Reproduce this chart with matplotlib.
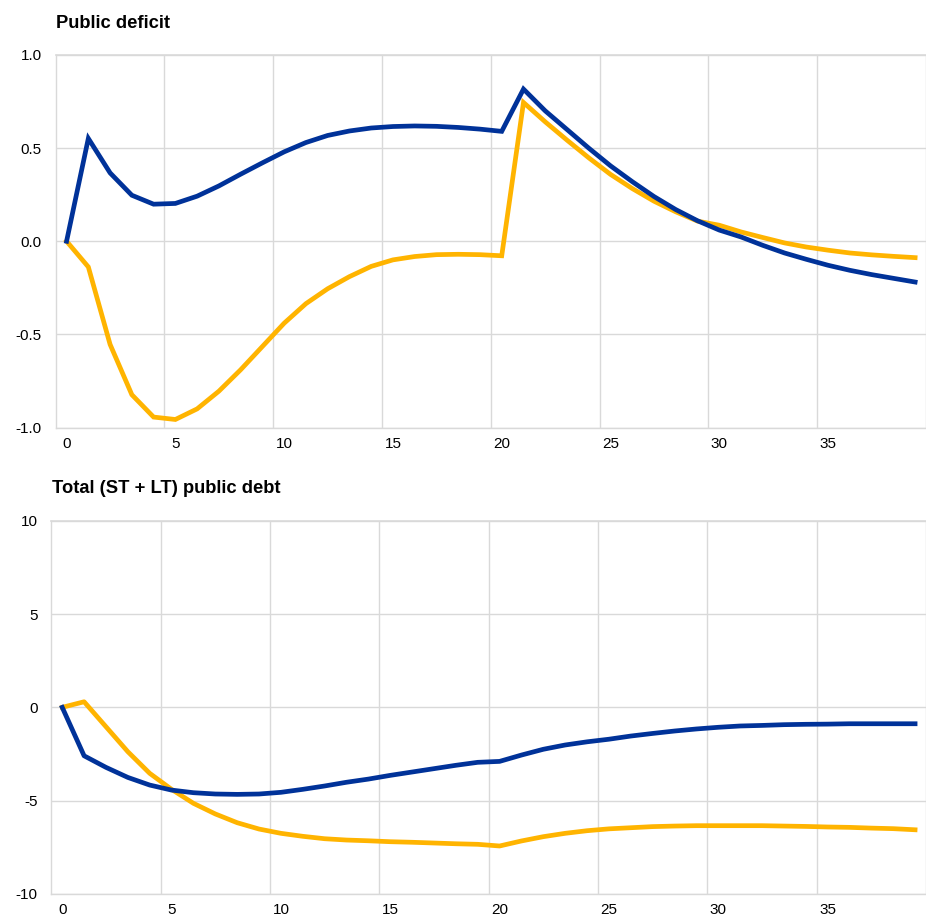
"""Public deficit and total public debt responses, two stacked panels."""
import matplotlib
matplotlib.use("Agg")
import matplotlib.pyplot as plt
import numpy as np

plt.rcParams["font.family"] = ["Liberation Sans", "DejaVu Sans"]

BLUE = "#003299"
YELLOW = "#FFB400"
GRID = "#d9d9d9"

periods = list(range(40))

deficit_blue = [0.0, 0.552, 0.367, 0.247, 0.199, 0.203, 0.242, 0.297, 0.36, 0.421,
                0.48, 0.53, 0.568, 0.592, 0.608, 0.616, 0.619, 0.617, 0.611, 0.602,
                0.59, 0.817, 0.70, 0.60, 0.50, 0.405, 0.32, 0.24, 0.17, 0.11,
                0.06, 0.023, -0.022, -0.063, -0.097, -0.129, -0.156, -0.179, -0.199, -0.219]
deficit_yellow = [0.0, -0.138, -0.554, -0.824, -0.944, -0.957, -0.9, -0.805, -0.69, -0.565,
                  -0.44, -0.335, -0.255, -0.19, -0.135, -0.1, -0.082, -0.072, -0.07, -0.072,
                  -0.078, 0.745, 0.641, 0.543, 0.448, 0.359, 0.283, 0.215, 0.158, 0.108,
                  0.086, 0.05, 0.02, -0.009, -0.031, -0.048, -0.063, -0.073, -0.081, -0.088]

debt_blue = [0.0, -2.6, -3.22, -3.76, -4.17, -4.44, -4.58, -4.65, -4.67, -4.65,
             -4.56, -4.4, -4.22, -4.02, -3.85, -3.65, -3.47, -3.29, -3.11, -2.95,
             -2.9, -2.56, -2.25, -2.02, -1.85, -1.71, -1.54, -1.40, -1.27, -1.16,
             -1.07, -1.0, -0.97, -0.93, -0.91, -0.9, -0.88, -0.88, -0.88, -0.88]
debt_yellow = [0.0, 0.3, -1.04, -2.38, -3.54, -4.4, -5.15, -5.72, -6.19, -6.53,
               -6.76, -6.92, -7.05, -7.12, -7.16, -7.21, -7.24, -7.28, -7.32, -7.35,
               -7.44, -7.17, -6.94, -6.76, -6.62, -6.52, -6.46, -6.4, -6.37, -6.35,
               -6.35, -6.35, -6.35, -6.37, -6.39, -6.42, -6.44, -6.48, -6.51, -6.57]

W, H = 926, 919
fig = plt.figure(figsize=(W / 100, H / 100), dpi=100)


def style(ax, yticks, ylabels, xmax):
    ax.set_xlim(-0.5, xmax)
    ax.set_ylim(yticks[0], yticks[-1])
    ax.set_yticks(yticks)
    ax.set_yticklabels(ylabels)
    ax.set_xticks(range(0, 40, 5))
    ax.set_xticks(np.arange(4.5, 40, 5), minor=True)
    ax.grid(True, which="minor", axis="x", color=GRID, lw=1.0)
    ax.grid(True, which="major", axis="y", color=GRID, lw=1.0)
    ax.set_axisbelow(True)
    for s in ["top", "right"]:
        ax.spines[s].set_visible(False)
    for s in ["left", "bottom"]:
        ax.spines[s].set_color(GRID)
        ax.spines[s].set_linewidth(1.0)
    ax.tick_params(which="both", length=0, labelsize=11, colors="black")
    ax.tick_params(axis="y", pad=10)
    ax.tick_params(axis="x", pad=7)
    # top gridline sits on the frame edge
    ax.axhline(yticks[-1], color=GRID, lw=1.2, clip_on=False, zorder=0)


# top panel: plot area x 55.7 -> 935.7 (22 px per period), y 55 -> 427.5
ax1 = fig.add_axes([55.7 / W, (H - 427.5) / H, 1 - 55.7 / W, (427.5 - 55) / H])
ax1.plot(periods, deficit_yellow, color=YELLOW, lw=3.4, solid_joinstyle="miter", zorder=3)
ax1.plot(periods, deficit_blue, color=BLUE, lw=3.4, solid_joinstyle="miter", zorder=4)
style(ax1, [-1.0, -0.5, 0.0, 0.5, 1.0], ["-1.0", "-0.5", "0.0", "0.5", "1.0"],
      (W - 55.7) / 22.0 - 0.5)

# bottom panel
ax2 = fig.add_axes([51.3 / W, (H - 893.7) / H, 1 - 51.3 / W, (893.7 - 521) / H])
ax2.plot(periods, debt_yellow, color=YELLOW, lw=3.4, zorder=3)
ax2.plot(periods, debt_blue, color=BLUE, lw=3.4, zorder=4)
style(ax2, [-10, -5, 0, 5, 10], ["-10", "-5", "0", "5", "10"],
      (W - 51.3) / 22.14 - 0.5)

fig.text(56 / W, 1 - 28 / H, "Public deficit", fontsize=13.2, fontweight="bold",
         ha="left", va="baseline")
fig.text(51.7 / W, 1 - 493 / H, "Total (ST + LT) public debt", fontsize=13.2,
         fontweight="bold", ha="left", va="baseline")

fig.savefig("out.png", dpi=100)
